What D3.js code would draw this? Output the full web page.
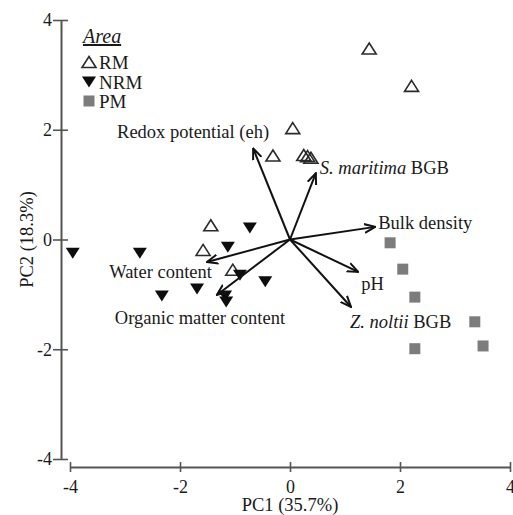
<!DOCTYPE html>
<html><head><meta charset="utf-8">
<script src="https://cdn.jsdelivr.net/npm/d3@7"></script>
<style>
html,body{margin:0;padding:0;background:#fff;}
svg{display:block;font-family:"Liberation Serif","Times New Roman",serif;}
</style></head>
<body><svg id="c" width="513" height="515"></svg>
<script>
// ---- data ----
const tickValues = [-4, -2, 0, 2, 4];
const xTitle = "PC1 (35.7%)";
const yTitle = "PC2 (18.3%)";
const legendTitle = "Area";
const groups = ["RM", "NRM", "PM"];

const rmX = [1.44, 2.21, 0.05, -0.31, 0.25, 0.32, 0.38, -1.44, -1.58, -1.04];
const rmY = [3.48, 2.80, 2.03, 1.53, 1.54, 1.52, 1.49, 0.26, -0.19, -0.55];

const nrmX = [-3.95, -2.73, -0.73, -1.13, -0.91, -2.33, -1.69, -1.18, -1.16, -0.45];
const nrmY = [-0.25, -0.25, 0.21, -0.14, -0.65, -1.03, -0.90, -1.03, -1.14, -0.77];

const pmX = [1.82, 2.05, 2.27, 3.36, 2.27, 3.51];
const pmY = [-0.06, -0.54, -1.05, -1.50, -1.99, -1.94];

const varNames = ["Redox potential (eh)", "S. maritima BGB", "Bulk density", "pH", "Z. noltii BGB", "Water content", "Organic matter content"];
const varX = [-0.67, 0.47, 1.55, 1.24, 1.11, -1.51, -1.33];
const varY = [1.66, 1.21, 0.23, -0.59, -1.23, -0.41, -1.01];

// ---- layout (pixel offsets of arrow labels relative to arrow tips) ----
const labelLayout = [
  {anchor: "end", dx: 16, dy: -10},
  {anchor: "start", dx: 4, dy: 1},
  {anchor: "start", dx: 3, dy: 2},
  {anchor: "start", dx: 3, dy: 18},
  {anchor: "start", dx: -1, dy: 21},
  {anchor: "end", dx: 5, dy: 16},
  {anchor: "start", dx: -102, dy: 29}
];
const italicPart = {1: "S. maritima", 4: "Z. noltii"};

const svg = d3.select("#c");
const x = d3.scaleLinear().domain([-4, 4]).range([70, 510]);
const y = d3.scaleLinear().domain([-4, 4]).range([459, 20]);
const axisColor = "#555";
const textColor = "#1a1a1a";

// y axis
const yAxisX = 61;
const gy = svg.append("g").attr("transform", `translate(${yAxisX},0)`)
  .call(d3.axisLeft(y).tickValues(tickValues).tickSizeInner(8).tickSizeOuter(0).tickPadding(1).tickFormat(d3.format("d")));
gy.select(".domain").attr("stroke", axisColor).attr("stroke-width", 2);
gy.selectAll(".tick line").attr("x1", 7).attr("stroke", axisColor).attr("stroke-width", 1.6);
gy.selectAll(".tick text").attr("font-size", 18).attr("fill", textColor)
  .attr("font-family", "Liberation Serif").text(d => d < 0 ? "-" + Math.abs(d) : d);

// x axis
const xAxisY = 467;
const gx = svg.append("g").attr("transform", `translate(0,${xAxisY})`)
  .call(d3.axisBottom(x).tickValues(tickValues).tickSizeInner(5).tickSizeOuter(0).tickPadding(8).tickFormat(d3.format("d")));
gx.select(".domain").attr("stroke", axisColor).attr("stroke-width", 2);
gx.selectAll(".tick line").attr("y1", -5).attr("stroke", axisColor).attr("stroke-width", 1.6);
gx.selectAll(".tick text").attr("font-size", 18).attr("fill", textColor)
  .attr("font-family", "Liberation Serif").text(d => d < 0 ? "-" + Math.abs(d) : d);

// axis titles
svg.append("text").attr("x", x(0)).attr("y", 511).attr("text-anchor", "middle")
  .attr("font-size", 18.5).attr("fill", textColor).text(xTitle);
svg.append("text").attr("transform", `translate(33,${y(0)}) rotate(-90)`).attr("text-anchor", "middle")
  .attr("font-size", 18.5).attr("fill", textColor).text(yTitle);

// marker shapes
function triPath(w, h, down) {
  const s = down ? -1 : 1;
  return `M0,${-s*h/2}L${w/2},${s*h/2}L${-w/2},${s*h/2}Z`;
}

// points
const rm = rmX.map((v, i) => ({x: v, y: rmY[i]}));
const nrm = nrmX.map((v, i) => ({x: v, y: nrmY[i]}));
const pm = pmX.map((v, i) => ({x: v, y: pmY[i]}));

svg.append("g").selectAll("path").data(rm).join("path")
  .attr("transform", d => `translate(${x(d.x)},${y(d.y)})`)
  .attr("d", triPath(14, 11, false))
  .attr("fill", "none").attr("stroke", "#2a2a2a").attr("stroke-width", 1.6).attr("stroke-linejoin", "miter");

svg.append("g").selectAll("path").data(nrm).join("path")
  .attr("transform", d => `translate(${x(d.x)},${y(d.y)})`)
  .attr("d", triPath(14, 11, true))
  .attr("fill", "#0d0d0d");

svg.append("g").selectAll("rect").data(pm).join("rect")
  .attr("x", d => x(d.x) - 5.5).attr("y", d => y(d.y) - 5.5)
  .attr("width", 11).attr("height", 11).attr("fill", "#7c7c7c");

// arrows
const defs = svg.append("defs");
defs.append("marker").attr("id", "ah").attr("viewBox", "0 -6 12 12")
  .attr("refX", 11).attr("refY", 0).attr("markerWidth", 12).attr("markerHeight", 12)
  .attr("markerUnits", "userSpaceOnUse").attr("orient", "auto")
  .append("path").attr("d", "M0,-4.5L11,0L0,4.5").attr("fill", "none")
  .attr("stroke", "#111").attr("stroke-width", 2);

const vars = varNames.map((n, i) => ({name: n, x: varX[i], y: varY[i], i}));
svg.append("g").selectAll("line").data(vars).join("line")
  .attr("x1", x(0)).attr("y1", y(0))
  .attr("x2", d => x(d.x)).attr("y2", d => y(d.y))
  .attr("stroke", "#111").attr("stroke-width", 2).attr("marker-end", "url(#ah)");

const lbl = svg.append("g").selectAll("text").data(vars).join("text")
  .attr("x", d => x(d.x) + labelLayout[d.i].dx)
  .attr("y", d => y(d.y) + labelLayout[d.i].dy)
  .attr("text-anchor", d => labelLayout[d.i].anchor)
  .attr("font-size", 18.5).attr("fill", textColor);
lbl.each(function(d) {
  const t = d3.select(this);
  const it = italicPart[d.i];
  if (it) {
    t.append("tspan").attr("font-style", "italic").text(it);
    t.append("tspan").text(d.name.slice(it.length));
  } else {
    t.text(d.name);
  }
});

// legend
const lg = svg.append("g");
lg.append("text").attr("x", 83).attr("y", 43).attr("font-size", 20).attr("font-style", "italic")
  .attr("text-decoration", "underline").attr("fill", textColor).text(legendTitle);
const legY = [62, 82, 101];
lg.append("path").attr("transform", `translate(89,${legY[0]})`).attr("d", triPath(14, 11, false))
  .attr("fill", "none").attr("stroke", "#2a2a2a").attr("stroke-width", 1.6);
lg.append("path").attr("transform", `translate(89,${legY[1]})`).attr("d", triPath(14, 11, true))
  .attr("fill", "#0d0d0d");
lg.append("rect").attr("x", 83.5).attr("y", legY[2] - 5.5).attr("width", 11).attr("height", 11).attr("fill", "#7c7c7c");
lg.selectAll("text.g").data(groups).join("text").attr("class", "g")
  .attr("x", 99).attr("y", (d, i) => legY[i] + 6.5).attr("font-size", 19).attr("fill", textColor).text(d => d);
</script></body></html>
